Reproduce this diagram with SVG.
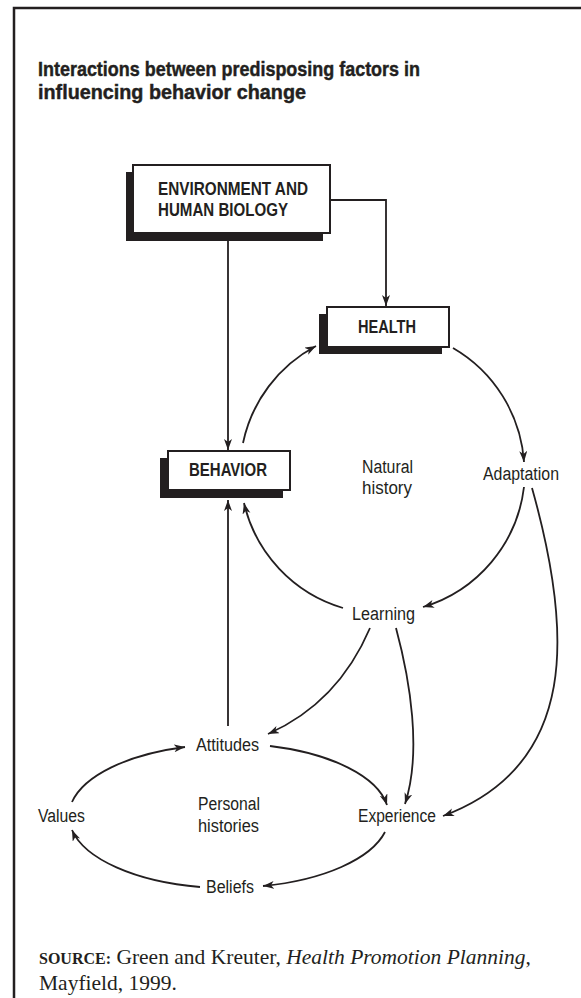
<svg xmlns="http://www.w3.org/2000/svg" width="581" height="998" viewBox="0 0 581 998">
  <style>
    .frame { fill: none; stroke: #231f20; stroke-width: 2.5; }
    .shadow { fill: #231f20; }
    .box { fill: #ffffff; stroke: #231f20; stroke-width: 2; }
    .edge { fill: none; stroke: #231f20; stroke-width: 1.8; }
    .title { font-family: "Liberation Sans", Arial, sans-serif; font-weight: bold; font-size: 20.5px; fill: #231f20; stroke: #231f20; stroke-width: 0.45; }
    .boxlabel { font-family: "Liberation Sans", Arial, sans-serif; font-weight: bold; font-size: 18px; fill: #231f20; }
    .label { font-family: "Liberation Sans", Arial, sans-serif; font-size: 18px; fill: #231f20; }
    .source { font-family: "Liberation Serif", "Times New Roman", serif; font-size: 21.5px; fill: #231f20; }
  </style>
  <defs>
    <marker id="arrow" markerUnits="userSpaceOnUse" markerWidth="12" markerHeight="9" refX="11" refY="4" orient="auto">
      <path d="M0,0 L11,4 L0,8 L3,4 z" fill="#231f20"/>
    </marker>
  </defs>

  <rect width="581" height="998" fill="#ffffff"/>

  <!-- page frame: top and left rules -->
  <path class="frame" d="M14,998 L14,8 L581,8"/>

  <!-- heading -->
  <g id="title">
    <text class="title" x="38" y="76" textLength="382" lengthAdjust="spacingAndGlyphs">Interactions between predisposing factors in</text>
    <text class="title" x="38" y="99" textLength="268" lengthAdjust="spacingAndGlyphs">influencing behavior change</text>
  </g>

  <!-- connectors -->
  <g id="connectors">
    <!-- environment to health and to behavior -->
    <path class="edge" d="M330,200 L386,200 L386,306" marker-end="url(#arrow)"/>
    <path class="edge" d="M228,241 L228,450" marker-end="url(#arrow)"/>
    <!-- attitudes up to behavior -->
    <path class="edge" d="M228,726 L228,500" marker-end="url(#arrow)"/>

    <!-- natural history cycle -->
    <path class="edge" d="M243,443 A143,143 0 0,1 316,346" marker-end="url(#arrow)"/>
    <path class="edge" d="M453,348 A143,143 0 0,1 524,462" marker-end="url(#arrow)"/>
    <path class="edge" d="M524,487 A143,143 0 0,1 423,607" marker-end="url(#arrow)"/>
    <path class="edge" d="M343,608 A143,143 0 0,1 244,503" marker-end="url(#arrow)"/>

    <!-- learning and adaptation feeding personal histories -->
    <path class="edge" d="M370,628 Q338,703 268,734" marker-end="url(#arrow)"/>
    <path class="edge" d="M396,628 C410,680 422,752 405,804" marker-end="url(#arrow)"/>
    <path class="edge" d="M532,488 C572,630 580,765 443,816" marker-end="url(#arrow)"/>

    <!-- personal histories cycle -->
    <path class="edge" d="M72,802 A160,72 0 0,1 185,747" marker-end="url(#arrow)"/>
    <path class="edge" d="M270,746 A160,72 0 0,1 387,805" marker-end="url(#arrow)"/>
    <path class="edge" d="M385,832 A160,72 0 0,1 263,886" marker-end="url(#arrow)"/>
    <path class="edge" d="M200,887 A160,72 0 0,1 72,830" marker-end="url(#arrow)"/>
  </g>

  <!-- boxed factors -->
  <g id="environment">
    <rect class="shadow" x="126" y="172" width="197" height="69"/>
    <rect class="box" x="133" y="165" width="197" height="68"/>
    <text class="boxlabel" x="158" y="195" textLength="150" lengthAdjust="spacingAndGlyphs">ENVIRONMENT AND</text>
    <text class="boxlabel" x="158" y="216" textLength="130" lengthAdjust="spacingAndGlyphs">HUMAN BIOLOGY</text>
  </g>
  <g id="health">
    <rect class="shadow" x="319" y="314" width="123" height="40"/>
    <rect class="box" x="327" y="307" width="122" height="40"/>
    <text class="boxlabel" x="358" y="333" textLength="58" lengthAdjust="spacingAndGlyphs">HEALTH</text>
  </g>
  <g id="behavior">
    <rect class="shadow" x="160" y="458" width="123" height="40"/>
    <rect class="box" x="168" y="451" width="122" height="39"/>
    <text class="boxlabel" x="189" y="476" textLength="78" lengthAdjust="spacingAndGlyphs">BEHAVIOR</text>
  </g>

  <!-- plain labels -->
  <g id="natural-history">
    <text class="label" x="362" y="473" textLength="51" lengthAdjust="spacingAndGlyphs">Natural</text>
    <text class="label" x="362" y="494" textLength="50" lengthAdjust="spacingAndGlyphs">history</text>
  </g>
  <g id="adaptation">
    <text class="label" x="483" y="480" textLength="76" lengthAdjust="spacingAndGlyphs">Adaptation</text>
  </g>
  <g id="learning">
    <text class="label" x="352" y="620" textLength="63" lengthAdjust="spacingAndGlyphs">Learning</text>
  </g>
  <g id="attitudes">
    <text class="label" x="196" y="751" textLength="63" lengthAdjust="spacingAndGlyphs">Attitudes</text>
  </g>
  <g id="values">
    <text class="label" x="38" y="822" textLength="47" lengthAdjust="spacingAndGlyphs">Values</text>
  </g>
  <g id="personal-histories">
    <text class="label" x="198" y="810" textLength="62" lengthAdjust="spacingAndGlyphs">Personal</text>
    <text class="label" x="198" y="832" textLength="61" lengthAdjust="spacingAndGlyphs">histories</text>
  </g>
  <g id="experience">
    <text class="label" x="358" y="822" textLength="78" lengthAdjust="spacingAndGlyphs">Experience</text>
  </g>
  <g id="beliefs">
    <text class="label" x="206" y="893" textLength="48" lengthAdjust="spacingAndGlyphs">Beliefs</text>
  </g>

  <!-- citation -->
  <g id="source">
    <text class="source" x="39" y="964"><tspan font-size="16" font-weight="bold">SOURCE:</tspan> Green and Kreuter, <tspan font-style="italic">Health Promotion Planning</tspan>,</text>
    <text class="source" x="39" y="990">Mayfield, 1999.</text>
  </g>
</svg>
